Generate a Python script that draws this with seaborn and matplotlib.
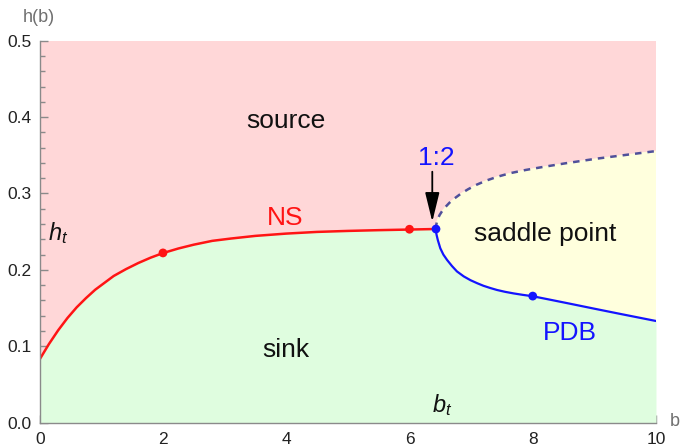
import numpy as np
import pandas as pd
import matplotlib
matplotlib.use("Agg")
import matplotlib.pyplot as plt
from matplotlib.ticker import MultipleLocator, FormatStrFormatter
import seaborn as sns

# ---- data ----
ns_b = [0.0, 0.15, 0.3, 0.45, 0.6, 0.75, 0.9, 1.05, 1.2, 1.4, 1.6, 1.8,
        2.0, 2.25, 2.5, 2.8, 3.1, 3.5, 4.0, 4.5, 5.0, 5.5, 6.0, 6.43]
ns_h = [0.083, 0.103, 0.121, 0.137, 0.151, 0.163, 0.174, 0.183, 0.192,
        0.201, 0.209, 0.216, 0.222, 0.228, 0.233, 0.238, 0.241, 0.2445,
        0.2475, 0.2497, 0.251, 0.252, 0.2528, 0.2535]

pdb_b = [6.43, 6.435, 6.44, 6.46, 6.50, 6.55, 6.61, 6.69, 6.77, 6.88, 6.99,
         7.10, 7.20, 7.31, 7.42, 7.55, 7.69, 7.84, 8.00, 8.28, 8.60, 9.00,
         9.40, 9.80, 10.0]
pdb_h = [0.2535, 0.248, 0.2457, 0.239, 0.2283, 0.220, 0.213, 0.205, 0.198,
         0.1915, 0.1865, 0.1825, 0.1792, 0.1763, 0.1737, 0.1713, 0.1692,
         0.1673, 0.1655, 0.1610, 0.1558, 0.1492, 0.1427, 0.1363, 0.1331]

up_b = [6.43, 6.435, 6.445, 6.46, 6.49, 6.53, 6.58, 6.65, 6.73, 6.83, 6.95,
        7.09, 7.25, 7.43, 7.63, 7.88, 8.15, 8.53, 9.03, 9.53, 10.0]
up_h = [0.2535, 0.259, 0.263, 0.2668, 0.272, 0.277, 0.282, 0.288, 0.2935,
        0.2995, 0.3055, 0.3115, 0.317, 0.322, 0.3265, 0.3307, 0.3345,
        0.3395, 0.3455, 0.3507, 0.3555]

ns_pts_b = [2.0, 6.0]
ns_pts_h = [0.2222, 0.2532]
blue_pts_b = [6.43, 8.0]
blue_pts_h = [0.2535, 0.1657]

x_ticks = [0, 2, 4, 6, 8, 10]
y_ticks = [0.0, 0.1, 0.2, 0.3, 0.4, 0.5]

# ---- style ----
sns.set_theme(style="ticks")
plt.rcParams["font.family"] = ["Liberation Sans", "DejaVu Sans"]
plt.rcParams["mathtext.fontset"] = "custom"
plt.rcParams["mathtext.it"] = "Liberation Sans:italic"
plt.rcParams["mathtext.rm"] = "Liberation Sans"

PINK = "#FFD7D8"
GREEN = "#DFFDDF"
YELLOW = "#FFFFDD"
RED = "#FF1414"
BLUE = "#1414FF"
DASH = "#50509A"
AXC = "#8a8a8a"

fig = plt.figure(figsize=(6.8, 4.48), dpi=100)
ax = fig.add_axes([0.0584, 0.0565, 0.9063, 0.8527])
ax.set_facecolor(PINK)

ns_df = pd.DataFrame({"b": ns_b, "h": ns_h})
pdb_df = pd.DataFrame({"b": pdb_b, "h": pdb_h})
up_df = pd.DataFrame({"b": up_b, "h": up_h})

# regions (one green region bounded by NS then PDB curve)
green_b = np.r_[ns_df["b"].values, pdb_df["b"].values[1:]]
green_h = np.r_[ns_df["h"].values, pdb_df["h"].values[1:]]
ax.fill_between(green_b, 0, green_h, color=GREEN, lw=0, zorder=1)
ax.fill(np.r_[pdb_df["b"].values, up_df["b"].values[::-1]],
        np.r_[pdb_df["h"].values, up_df["h"].values[::-1]],
        facecolor=YELLOW, edgecolor=YELLOW, lw=0.6, zorder=1)

# curves
line_kw = dict(sort=False, estimator=None, zorder=3,
               solid_joinstyle="round", solid_capstyle="round")
sns.lineplot(data=ns_df, x="b", y="h", ax=ax, color=RED, lw=1.8, **line_kw)
sns.lineplot(data=pdb_df, x="b", y="h", ax=ax, color=BLUE, lw=1.6, **line_kw)
sns.lineplot(data=up_df, x="b", y="h", ax=ax, color=DASH, lw=1.8,
             sort=False, estimator=None, zorder=3,
             linestyle=(0, (2.6, 2.4)))

sns.scatterplot(x=ns_pts_b, y=ns_pts_h, ax=ax, color=RED, s=40,
                edgecolor="none", zorder=4)
sns.scatterplot(x=blue_pts_b, y=blue_pts_h, ax=ax, color=BLUE, s=40,
                edgecolor="none", zorder=5)

# axes
ax.set_xlim(0, 10)
ax.set_ylim(0, 0.5)
ax.set_xticks(x_ticks)
ax.set_yticks(y_ticks)
ax.yaxis.set_major_formatter(FormatStrFormatter("%.1f"))
ax.xaxis.set_minor_locator(MultipleLocator(0.5))
ax.yaxis.set_minor_locator(MultipleLocator(0.02))
ax.tick_params(which="both", direction="in", color=AXC, width=1.0,
               labelsize=12.5, labelcolor="#222222")
ax.tick_params(which="major", length=6, pad=6)
ax.tick_params(which="minor", length=3.5)
ax.tick_params(axis="x", which="major", pad=7)
for s in ["top", "right"]:
    ax.spines[s].set_visible(False)
for s in ["left", "bottom"]:
    ax.spines[s].set_color(AXC)
    ax.spines[s].set_linewidth(1.0)
    ax.spines[s].set_zorder(6)
ax.set_xlabel("")
ax.set_ylabel("")

fig.text(39 / 680, 1 - 17.5 / 448, "h(b)", ha="center", va="center",
         fontsize=13, color="#707070")
fig.text(675 / 680, 1 - 421 / 448, "b", ha="center", va="center",
         fontsize=13, color="#707070")

# labels
big = 19
ax.text(4.0, 0.3857, "source", fontsize=big, ha="center", va="baseline",
        color="#111111", zorder=7)
ax.text(4.0, 0.0863, "sink", fontsize=big, ha="center", va="baseline",
        color="#111111", zorder=7)
ax.text(8.20, 0.2378, "saddle point", fontsize=big, ha="center",
        va="baseline", color="#111111", zorder=7)
ax.text(3.98, 0.2585, "NS", fontsize=big, ha="center", va="baseline",
        color=RED, zorder=7)
ax.text(8.61, 0.108, "PDB", fontsize=big, ha="center", va="baseline",
        color=BLUE, zorder=7)
ax.text(6.43, 0.337, "1:2", fontsize=big, ha="center", va="baseline",
        color=BLUE, zorder=7)
ax.text(0.135, 0.239, r"$h_t$", fontsize=17, ha="left", va="baseline",
        color="#111111", zorder=7)
ax.text(6.36, 0.0144, r"$b_t$", fontsize=17, ha="left", va="baseline",
        color="#111111", zorder=7)

ax.annotate("", xy=(6.37, 0.263), xytext=(6.37, 0.3285),
            arrowprops=dict(arrowstyle="-|>,head_length=0.9,head_width=0.22",
                            color="black", lw=1.3, mutation_scale=20,
                            shrinkA=0, shrinkB=0),
            zorder=8)

fig.savefig("out.png", dpi=100)
